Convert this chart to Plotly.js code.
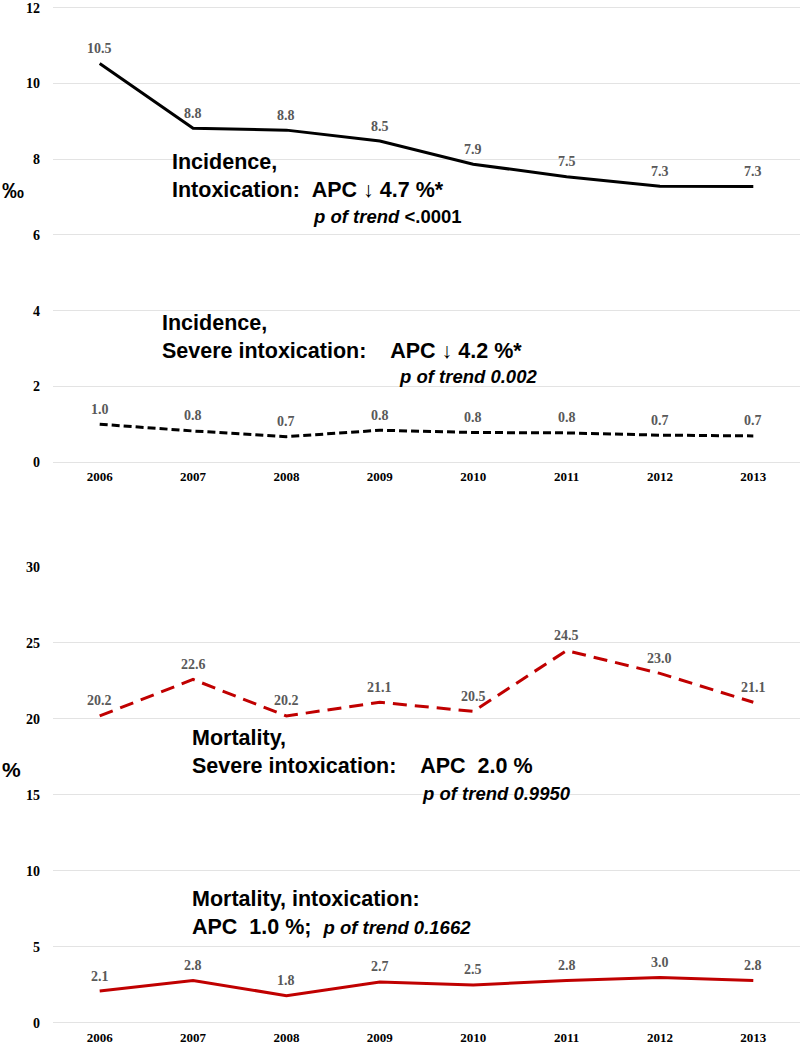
<!DOCTYPE html>
<html>
<head>
<meta charset="utf-8">
<script src="https://cdn.plot.ly/plotly-3.0.1.min.js"></script>
<style>
  html, body { margin: 0; padding: 0; background: #fff; }
  #chart { width: 800px; height: 1046px; }
</style>
</head>
<body>
<div id="chart"></div>
<script>
const years = ['2006', '2007', '2008', '2009', '2010', '2011', '2012', '2013'];

// incidence per mille
const incidenceIntox = [10.53, 8.82, 8.77, 8.48, 7.87, 7.54, 7.29, 7.28];
const incidenceSevere = [1.0, 0.82, 0.67, 0.84, 0.78, 0.77, 0.71, 0.69];

// mortality percent
const mortalitySevere = [20.2, 22.6, 20.2, 21.1, 20.5, 24.5, 23.0, 21.1];
const mortalityIntox = [2.1, 2.8, 1.8, 2.7, 2.5, 2.8, 3.0, 2.8];

const serif = 'Liberation Serif',
    sans = 'Liberation Sans';
const labelFont = { family: serif, size: 14, color: '#595959', weight: 'bold' };

const mkLine = (y, xa, ya, color, dash) => ({
    type: 'scatter',
    mode: 'lines',
    x: years,
    y: y,
    xaxis: xa,
    yaxis: ya,
    line: { color: color, width: 3, dash: dash },
    hoverinfo: 'x+y',
});

// value labels sit a bit above each point (category serial index on x)
const mkLabels = (y, xa, ya) => y.map((v, i) => ({
    xref: xa, yref: ya, x: i, y: v,
    text: v.toFixed(1), font: labelFont,
    xanchor: 'center', yanchor: 'middle', yshift: 15,
    showarrow: false,
}));

const data = [
    mkLine(incidenceIntox, 'x', 'y', '#000000', 'solid'),
    mkLine(incidenceSevere, 'x', 'y', '#000000', '8px,4px'),
    mkLine(mortalitySevere, 'x2', 'y2', '#c00000', '14px,8px'),
    mkLine(mortalityIntox, 'x2', 'y2', '#c00000', 'solid'),
];

const xCommon = {
    type: 'category',
    range: [-0.5, 7.5],
    showgrid: false,
    showline: false,
    ticks: '',
    tickfont: { family: serif, size: 13, color: '#000', weight: 'bold' },
    ticklabelstandoff: 5,
};
const yCommon = {
    showgrid: true,
    gridcolor: '#e3e3e3',
    gridwidth: 1,
    zeroline: true,
    zerolinecolor: '#e3e3e3',
    zerolinewidth: 1,
    showline: false,
    ticks: '',
    tickfont: { family: serif, size: 14, color: '#000', weight: 'bold' },
    ticklabelstandoff: 12,
};

const big = { family: sans, size: 21.5, color: '#000', weight: 'bold' },
    small = { family: sans, size: 18.5, color: '#000', weight: 'bold' };
const sp = '\u00a0';

const notes = [
    { xref: 'paper', yref: 'paper', x: -0.071, y: 0.819, xanchor: 'left', yanchor: 'middle',
      text: '‰', font: { family: sans, size: 22, color: '#000', weight: 'bold' }, showarrow: false },
    { xref: 'paper', yref: 'paper', x: -0.071, y: 0.2488, xanchor: 'left', yanchor: 'middle',
      text: '%', font: { family: sans, size: 21, color: '#000', weight: 'bold' }, showarrow: false },

    { xref: 'paper', yref: 'y', x: 0.157, y: 7.545, xanchor: 'left', yanchor: 'middle', align: 'left',
      text: 'Incidence,<br>Intoxication:' + sp + sp + 'APC ↓ 4.7 %*', font: big, showarrow: false },
    { xref: 'paper', yref: 'y', x: 0.345, y: 6.50, xanchor: 'left', yanchor: 'middle',
      text: '<i>p of trend</i> <.0001', font: small, showarrow: false },

    { xref: 'paper', yref: 'y', x: 0.143, y: 3.30, xanchor: 'left', yanchor: 'middle', align: 'left',
      text: 'Incidence,<br>Severe intoxication:' + sp + sp + sp + sp + 'APC ↓ 4.2 %*', font: big, showarrow: false },
    { xref: 'paper', yref: 'y', x: 0.46, y: 2.25, xanchor: 'left', yanchor: 'middle',
      text: '<i>p of trend 0.002</i>', font: small, showarrow: false },

    { xref: 'paper', yref: 'y2', x: 0.183, y: 17.80, xanchor: 'left', yanchor: 'middle', align: 'left',
      text: 'Mortality,<br>Severe intoxication:' + sp + sp + sp + sp + 'APC' + sp + sp + '2.0 %', font: big, showarrow: false },
    { xref: 'paper', yref: 'y2', x: 0.491, y: 15.13, xanchor: 'left', yanchor: 'middle',
      text: '<i>p of trend 0.9950</i>', font: small, showarrow: false },

    { xref: 'paper', yref: 'y2', x: 0.183, y: 7.24, xanchor: 'left', yanchor: 'middle', align: 'left',
      text: 'Mortality, intoxication:<br>APC' + sp + sp + '1.0 %;' + sp + sp + '<span style="font-size:18.5px"><i>p of trend 0.1662</i></span>',
      font: big, showarrow: false },
];

const annotations = notes.concat(
    mkLabels(incidenceIntox, 'x', 'y'),
    mkLabels(incidenceSevere, 'x', 'y'),
    mkLabels(mortalitySevere, 'x2', 'y2'),
    mkLabels(mortalityIntox, 'x2', 'y2'),
);

const layout = {
    width: 800,
    height: 1046,
    margin: { l: 53, r: 0, t: 6, b: 23 },
    paper_bgcolor: '#fff',
    plot_bgcolor: '#fff',
    showlegend: false,
    xaxis: Object.assign({}, xCommon, { anchor: 'y' }),
    yaxis: Object.assign({}, yCommon, { domain: [0.5516, 1], range: [0, 12.05], tickvals: [0, 2, 4, 6, 8, 10, 12], anchor: 'x' }),
    xaxis2: Object.assign({}, xCommon, { anchor: 'y2' }),
    yaxis2: Object.assign({}, yCommon, { domain: [0, 0.4484], range: [0, 30], dtick: 5, anchor: 'x2' }),
    annotations: annotations,
};

Plotly.newPlot('chart', data, layout, { displayModeBar: false, staticPlot: true });
</script>
</body>
</html>
